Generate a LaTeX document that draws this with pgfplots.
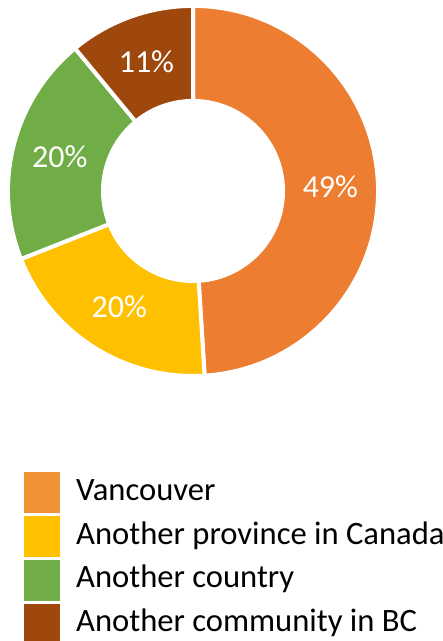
\documentclass[border=0pt]{standalone}
\usepackage{pgfplots}
\pgfplotsset{compat=1.18}
\usepackage{pgfplotstable}
\usepackage{fontspec}
\setmainfont{Carlito}

\definecolor{c0}{HTML}{ED7D31}
\definecolor{c1}{HTML}{FFC000}
\definecolor{c2}{HTML}{70AD47}
\definecolor{c3}{HTML}{9E480E}
\definecolor{l0}{HTML}{F09135}

\pgfplotstableread{
label value
Vancouver 49
Province 20
Country 20
Community 11
}\slices

\begin{document}
\begin{tikzpicture}
\begin{axis}[
    hide axis,
    scale only axis,
    x=92.5pt, y=92.5pt,
    xmin=-1.043, xmax=1.346,
    ymin=-2.432, ymax=1.032,
    clip=false,
    legend style={
        at={(axis cs:-0.9135,-1.519)}, anchor=north west,
        draw=none, fill=none, inner sep=0pt,
        font=\fontsize{16.3}{18}\selectfont,
        row sep=1.5pt,
        nodes={inner sep=0pt, text height=11.5pt, text depth=4pt},
        /tikz/every odd column/.append style={column sep=8pt},
    },
    legend cell align=left,
    legend image code/.code={\fill[#1] (0pt,-10pt) rectangle (17.5pt,10pt);},
]
\addlegendimage{l0}\addlegendentry{Vancouver}
\addlegendimage{c1}\addlegendentry{Another province in Canada}
\addlegendimage{c2}\addlegendentry{Another country}
\addlegendimage{c3}\addlegendentry{Another community in BC}

\def\cum{0}
\pgfplotsforeachungrouped \i in {0,1,2,3}{
  \pgfplotstablegetelem{\i}{value}\of\slices
  \let\v\pgfplotsretval
  \pgfmathsetmacro\a{90-3.6*\cum}
  \pgfmathsetmacro\b{90-3.6*(\cum+\v)}
  \pgfmathsetmacro\m{(\a+\b)/2}
  \pgfmathsetmacro\xa{cos(\a)}
  \pgfmathsetmacro\ya{sin(\a)}
  \pgfmathsetmacro\xb{0.4865*cos(\b)}
  \pgfmathsetmacro\yb{0.4865*sin(\b)}
  \pgfmathsetmacro\xm{0.743*cos(\m)}
  \pgfmathsetmacro\ym{0.743*sin(\m)}
  \edef\temp{\noexpand\fill[c\i, draw=white, line width=2pt]
      (axis cs:\xa,\ya) arc[start angle=\a, end angle=\b, radius=92.5pt]
      -- (axis cs:\xb,\yb) arc[start angle=\b, end angle=\a, radius=45pt] -- cycle;
    \noexpand\node[text=white, font=\noexpand\fontsize{16}{18}\noexpand\selectfont]
      at (axis cs:\xm,\ym) {\v\noexpand\%};}
  \temp
  \pgfmathsetmacro\cum{\cum+\v}
}
\end{axis}
\pgfresetboundingbox
\path (current axis.south west) rectangle (current axis.north east);
\end{tikzpicture}
\end{document}
